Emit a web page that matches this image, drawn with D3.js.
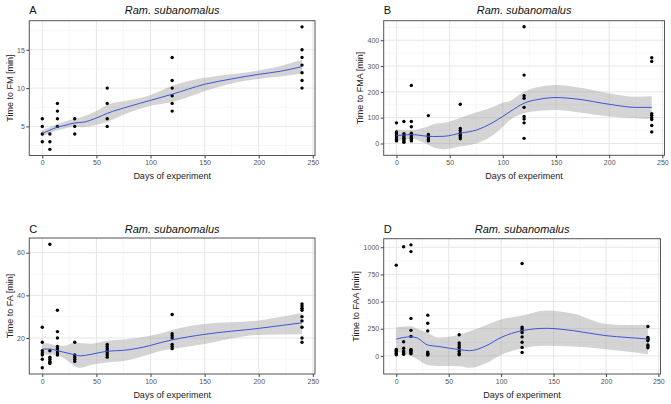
<!DOCTYPE html>
<html><head><meta charset="utf-8">
<script src="https://cdn.jsdelivr.net/npm/d3@7"></script>
<style>body{margin:0;background:#fff}svg{display:block}</style>
</head><body>
<script>
// ---------- data ----------
const sampleDays = [0, 7, 14, 30, 60, 120, 240];
const xTicks = [0, 50, 100, 150, 200, 250];
const speciesTitle = "Ram. subanomalus";
const xAxisTitle = "Days of experiment";

// Panel A: time to FM
const fmValues = [[3,4,5,6],[2,3,4],[5,6,7,8],[4,5,6],[5,6,8,10],[7,8,9,10,11,14],[10,11,12,13,14,15,18]];
const fmSmoothDays = [0,7,14,20,30,38,50,60,80,100,120,150,175,200,220,240];
const fmFit   = [4.1,4.5,4.9,5.1,5.45,5.55,6.1,6.7,7.6,8.4,9.2,10.5,11.2,11.8,12.2,12.8];
const fmLower = [3.7,4.1,4.5,4.7,5.0,4.9,5.2,5.6,6.8,7.7,8.2,9.6,10.6,11.2,11.5,11.9];
const fmUpper = [4.5,4.9,5.3,5.6,6.0,6.3,7.0,7.8,8.4,9.1,10.3,11.35,11.8,12.3,12.9,13.7];
const fmTicks = [5,10,15];

// Panel B: time to FMA
const fmaValues = [[80,45,38,30,22,15,10],[85,38,32,25,20,15,10,5],[225,85,65,40,35,30,25,20,15,10],[108,35,28,22,15,10],[152,58,50,40,32,25,18],[452,265,185,175,140,105,95,80,20],[332,318,115,108,100,93,70,45]];
const fmaSmoothDays = [0,7,14,25,35,45,60,75,90,100,107,120,135,150,170,200,225,240];
const fmaFit   = [31,33,35,30,27,28,40,52,80,105,124,156,172,178,172,152,140,140];
const fmaLower = [10,14,18,5,-15,-22,-12,0,30,65,92,117,127,130,121,105,98,95];
const fmaUpper = [55,52,52,60,75,80,100,120,140,158,165,201,220,227,218,195,181,183];
const fmaTicks = [0,100,200,300,400];

// Panel C: time to FA
const faValues = [[25,18,14,13,12,10,6],[64,14,11,10,9,8.5,8],[33,23,20,16,15,14,13,12],[18,12,11,10,9],[17,16,15,14,13,12,11],[31,22,21,20,17,16,15],[36,35,34,33,30,28,25,20,18]];
const faSmoothDays = [0,7,14,20,30,35,45,60,75,100,110,120,150,200,240];
const faFit   = [14.8,14.8,14.0,13.3,12.1,11.6,12.3,13.8,14.2,16.5,17.9,19.1,21.7,24.5,27.1];
const faLower = [12.0,12.3,11.8,10.5,6.9,6.0,7.3,8.5,9.2,12.5,14.0,14.8,17.2,21.4,21.7];
const faUpper = [17.7,17.3,16.3,16.3,17.9,17.6,17.3,18.7,19.3,21.0,22.2,23.8,26.6,28.2,31.8];
const faTicks = [20,40,60];

// Panel D: time to FAA
const faaValues = [[835,60,50,40,30,20,10],[1005,130,70,45,30,20,15],[1022,960,345,235,180,60,50,40,30,20],[375,300,230,35,25,15,8],[195,120,100,80,60,40,20,10],[850,265,250,235,215,175,125,78,32],[270,170,160,150,140,100,90,75]];
const faaSmoothDays = [0,14,20,30,40,60,70,85,100,120,143,169,200,220,240];
const faaFit   = [155,176,165,100,87,58,48,90,170,232,254,232,186,170,155];
const faaLower = [40,0,-30,-84,-93,-95,-110,-70,9,70,93,86,62,40,16];
const faaUpper = [263,272,250,213,170,195,226,280,334,371,418,387,294,285,285];
const faaTicks = [0,250,500,750,1000];

// ---------- layout ----------
const W = 671, H = 404;
const svg = d3.select("body").append("svg").attr("width", W).attr("height", H)
  .style("font-family", "'Liberation Sans', Arial, sans-serif");

const panels = [
  {tag:"A", ylab:"Time to FM [min]",  vals:fmValues,  sd:fmSmoothDays,  fit:fmFit,  lo:fmLower,  hi:fmUpper,  yt:fmTicks,
   box:{l:29.3,r:315,t:20.7,b:155.5}, ylabX:10, titleY:14, xtitleY:178.5},
  {tag:"B", ylab:"Time to FMA [min]", vals:fmaValues, sd:fmaSmoothDays, fit:fmaFit, lo:fmaLower, hi:fmaUpper, yt:fmaTicks,
   box:{l:383.7,r:664.5,t:20.7,b:155.3}, ylabX:360, titleY:14, xtitleY:178.5},
  {tag:"C", ylab:"Time to FA [min]",  vals:faValues,  sd:faSmoothDays,  fit:faFit,  lo:faLower,  hi:faUpper,  yt:faTicks,
   box:{l:29.3,r:315,t:238,b:374}, ylabX:10, titleY:233.3, xtitleY:397.5},
  {tag:"D", ylab:"Time to FAA [min]", vals:faaValues, sd:faaSmoothDays, fit:faaFit, lo:faaLower, hi:faaUpper, yt:faaTicks,
   box:{l:383.7,r:660.5,t:238.7,b:374}, ylabX:356, titleY:233.3, xtitleY:397.5}
];

panels.forEach(p => {
  const b = p.box;
  const x = d3.scaleLinear().domain([-12, 252]).range([b.l, b.r]);
  const allY = p.vals.flat().concat(p.lo, p.hi);
  const [mn, mx] = d3.extent(allY);
  const pad = (mx - mn) * 0.05;
  const y = d3.scaleLinear().domain([mn - pad, mx + pad]).range([b.b, b.t]);
  const g = svg.append("g");

  g.append("rect").attr("x", b.l).attr("y", b.t).attr("width", b.r - b.l).attr("height", b.b - b.t).attr("fill", "#fff");

  // minor grid
  const step = p.yt[1] - p.yt[0];
  const yMinor = [];
  for (let v = p.yt[0] - step / 2; v <= p.yt[p.yt.length - 1] + step; v += step) {
    if (v >= y.domain()[0] && v <= y.domain()[1]) yMinor.push(v);
  }
  const xMinor = [25, 75, 125, 175, 225];
  g.selectAll(".xmin").data(xMinor).join("line").attr("x1", d => x(d)).attr("x2", d => x(d))
    .attr("y1", b.t).attr("y2", b.b).attr("stroke", "#f2f2f2").attr("stroke-width", 0.6);
  g.selectAll(".ymin").data(yMinor).join("line").attr("y1", d => y(d)).attr("y2", d => y(d))
    .attr("x1", b.l).attr("x2", b.r).attr("stroke", "#f2f2f2").attr("stroke-width", 0.6);
  // major grid
  g.selectAll(".xmaj").data(xTicks).join("line").attr("x1", d => x(d)).attr("x2", d => x(d))
    .attr("y1", b.t).attr("y2", b.b).attr("stroke", "#e6e6e6").attr("stroke-width", 1);
  g.selectAll(".ymaj").data(p.yt).join("line").attr("y1", d => y(d)).attr("y2", d => y(d))
    .attr("x1", b.l).attr("x2", b.r).attr("stroke", "#e6e6e6").attr("stroke-width", 1);

  // ribbon
  const band = p.sd.map((d, i) => ({d, lo: p.lo[i], hi: p.hi[i], f: p.fit[i]}));
  g.append("path").datum(band)
    .attr("d", d3.area().x(d => x(d.d)).y0(d => y(d.lo)).y1(d => y(d.hi)).curve(d3.curveMonotoneX))
    .attr("fill", "#999999").attr("fill-opacity", 0.42);

  // points
  const pts = [];
  p.vals.forEach((arr, i) => arr.forEach(v => pts.push({d: sampleDays[i], v})));
  g.selectAll(".pt").data(pts).join("circle")
    .attr("cx", d => x(d.d)).attr("cy", d => y(d.v)).attr("r", 1.7).attr("fill", "#000");

  // smooth line
  g.append("path").datum(band)
    .attr("d", d3.line().x(d => x(d.d)).y(d => y(d.f)).curve(d3.curveMonotoneX))
    .attr("fill", "none").attr("stroke", "#3a55d8").attr("stroke-width", 1);

  // border
  g.append("rect").attr("x", b.l).attr("y", b.t).attr("width", b.r - b.l).attr("height", b.b - b.t)
    .attr("fill", "none").attr("stroke", "#555").attr("stroke-width", 1);

  // axes
  const ax = g.append("g").attr("transform", `translate(0,${b.b})`)
    .call(d3.axisBottom(x).tickValues(xTicks).tickSize(3).tickPadding(2).tickFormat(d3.format("d")));
  const ay = g.append("g").attr("transform", `translate(${b.l},0)`)
    .call(d3.axisLeft(y).tickValues(p.yt).tickSize(3).tickPadding(1.5).tickFormat(d3.format("d")));
  [ax, ay].forEach(a => {
    a.select(".domain").remove();
    a.selectAll(".tick line").attr("stroke", "#444");
    a.selectAll(".tick text").attr("fill", "#555").style("font-size", "7px").style("font-family", "'Liberation Sans', Arial, sans-serif");
  });

  // titles
  g.append("text").attr("x", b.l).attr("y", p.titleY).text(p.tag)
    .style("font-size", "11px").attr("fill", "#111");
  g.append("text").attr("x", (b.l + b.r) / 2).attr("y", p.titleY).attr("text-anchor", "middle")
    .style("font-size", "11px").style("font-style", "italic").attr("fill", "#111").text(speciesTitle);
  g.append("text").attr("x", (b.l + b.r) / 2).attr("y", p.xtitleY).attr("text-anchor", "middle")
    .style("font-size", "9px").attr("fill", "#222").text(xAxisTitle);
  g.append("text").attr("transform", `translate(${p.ylabX},${(b.t + b.b) / 2}) rotate(-90)`)
    .attr("text-anchor", "middle").attr("dominant-baseline", "central")
    .style("font-size", "9px").attr("fill", "#222").text(p.ylab);
});
</script>
</body></html>
